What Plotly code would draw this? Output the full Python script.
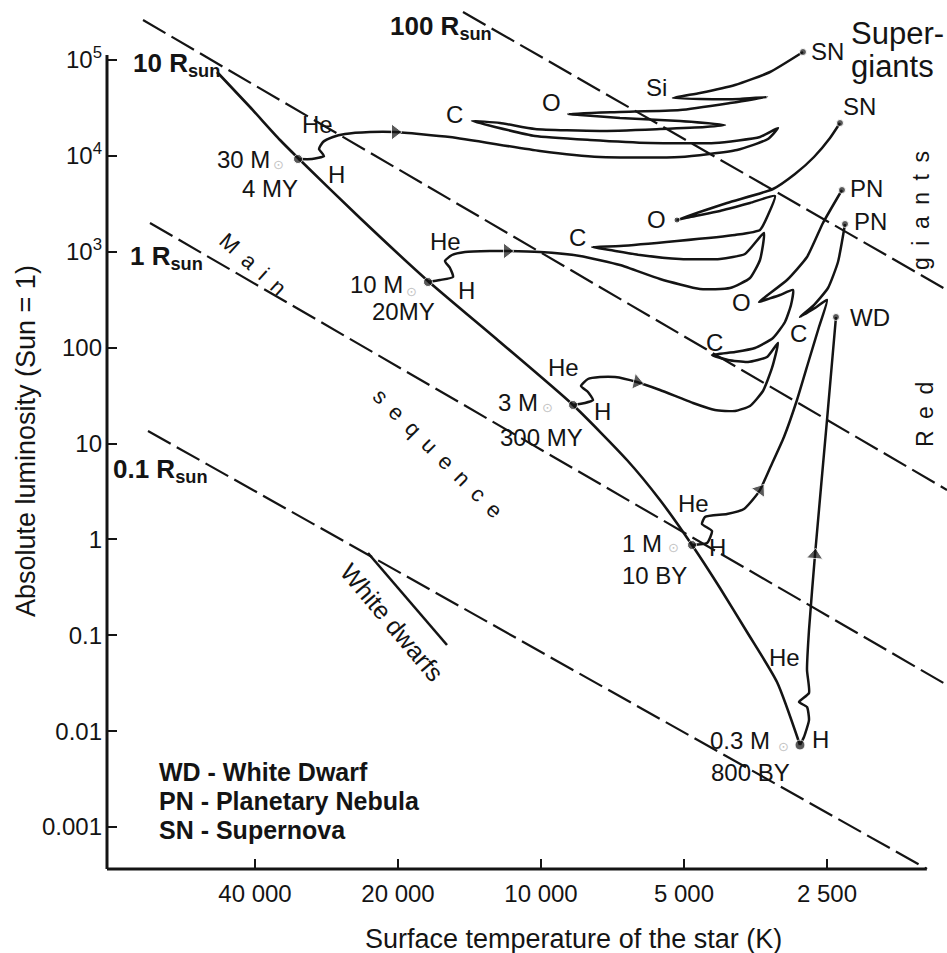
import numpy as np
import plotly.graph_objects as go

# ---------------- data (log10 T [K], log10 L [L_sun]) ----------------
t_ticks = [40000, 20000, 10000, 5000, 2500]
t_labels = ["40 000", "20 000", "10 000", "5 000", "2 500"]
l_ticks = [1e5, 1e4, 1e3, 100, 10, 1, 0.1, 0.01, 0.001]
l_labels = ["10<sup>5</sup>", "10<sup>4</sup>", "10<sup>3</sup>", "100", "10", "1", "0.1", "0.01", "0.001"]

# lines of constant radius (end points)
radius_names = ["100 Rsun", "10 Rsun", "1 Rsun", "0.1 Rsun"]
radius_logT = [[4.1642, 3.1453], [4.8378, 3.1453], [4.8231, 3.1453], [4.8273, 3.1874]]
radius_logL = [[5.5006, 2.6011], [5.4172, 0.5151], [3.2999, -1.5188], [1.1305, -3.4379]]

# main sequence
ms_logT = [4.6820, 4.6126, 4.5494, 4.5115, 4.3810, 4.2379, 4.0863, 3.9326, 3.8190, 3.7495,
           3.6821, 3.6232, 3.5663, 3.5032, 3.4548]
ms_logL = [4.8748, 4.5098, 4.1656, 3.9779, 3.3521, 2.6950, 2.0587, 1.4016, 0.8280, 0.4108,
           -0.0586, -0.5070, -0.9660, -1.4875, -2.1446]

# evolutionary tracks
m30_logT = [4.5115, 4.4821, 4.4568, 4.4673, 4.4589, 4.4379, 4.4126, 4.3600, 4.3073, 4.1916,
            4.0021, 3.8758, 3.7074, 3.5874, 3.5221, 3.5011, 3.5390, 3.6337, 3.7705, 3.8968,
            4.0126, 4.0968, 4.1452, 4.0863, 4.0126, 3.8758, 3.7495, 3.6548, 3.6127, 3.7074,
            3.8337, 3.9179, 3.9432, 3.8337, 3.7074, 3.6021, 3.5242, 3.5811, 3.6653, 3.7221,
            3.6653, 3.5916, 3.5179, 3.4485]
m30_logL = [3.9674, 3.9674, 3.9987, 4.0717, 4.1447, 4.1969, 4.2282, 4.2490, 4.2490, 4.1969,
            4.0509, 3.9883, 3.9883, 4.0613, 4.1760, 4.2908, 4.1969, 4.1343, 4.1343, 4.1656,
            4.2073, 4.3012, 4.3638, 4.3429, 4.2803, 4.2595, 4.2803, 4.3012, 4.3221, 4.3638,
            4.3951, 4.4264, 4.4368, 4.4576, 4.4785, 4.5515, 4.6141, 4.5932, 4.5932, 4.6037,
            4.6558, 4.7393, 4.8748, 5.0834]

m10_logT = [4.2379, 4.2126, 4.1852, 4.1916, 4.2021, 4.1873, 4.1600, 4.1074, 4.0716, 4.0021,
            3.9179, 3.8337, 3.7495, 3.6653, 3.6021, 3.5600, 3.5390, 3.5306, 3.5706, 3.6232,
            3.7074, 3.7916, 3.8547, 3.8926, 3.8337, 3.7137, 3.5916, 3.5390, 3.5221, 3.5074,
            3.5600, 3.6232, 3.6863, 3.7137, 3.6084, 3.5116, 3.4653, 3.4253, 3.3916, 3.3706]
m10_logL = [2.6845, 2.7054, 2.7367, 2.8306, 2.9036, 2.9662, 2.9974, 3.0079, 3.0079, 2.9974,
            2.9557, 2.8619, 2.7158, 2.6115, 2.6220, 2.7263, 2.9140, 3.1956, 2.9766, 2.9244,
            2.9244, 2.9662, 3.0183, 3.0496, 3.0600, 3.1122, 3.1748, 3.2269, 3.3834, 3.5815,
            3.5085, 3.4251, 3.3625, 3.3312, 3.5085, 3.6545, 3.8110, 3.9883, 4.1865, 4.3429]

m3_logT = [3.9326, 3.9074, 3.8905, 3.9011, 3.9158, 3.9011, 3.8758, 3.8442, 3.7979, 3.7495,
           3.6800, 3.6337, 3.5916, 3.5600, 3.5327, 3.5137, 3.5011, 3.5242, 3.5642, 3.6063,
           3.6400, 3.5916, 3.5495, 3.5116, 3.4864, 3.4737, 3.4695, 3.4969, 3.5221, 3.5411,
           3.4821, 3.4400, 3.4064, 3.3664]
m3_logL = [1.4017, 1.4225, 1.4538, 1.5372, 1.5998, 1.6728, 1.6937, 1.6937, 1.6415, 1.5581,
           1.4225, 1.3495, 1.3391, 1.3912, 1.5477, 1.7876, 2.0483, 1.9023, 1.8501, 1.8710,
           1.9232, 1.9544, 1.9962, 2.1005, 2.2673, 2.4447, 2.6011, 2.5490, 2.5072, 2.4759,
           2.7054, 2.9453, 3.2999, 3.6441]

m1_logT = [3.6821, 3.6505, 3.6400, 3.6611, 3.6548, 3.6084, 3.5727, 3.5495, 3.5390, 3.5179,
           3.4885, 3.4611, 3.4358, 3.4148, 3.3979, 3.4232, 3.4548, 3.4274, 3.3958, 3.3748, 3.3600]
m1_logL = [-0.0586, -0.0377, 0.0875, 0.1605, 0.2335, 0.2648, 0.3169, 0.4421, 0.5151, 0.7446,
           1.0679, 1.4538, 1.8710, 2.2152, 2.4968, 2.4134, 2.3195, 2.4342, 2.6220, 2.8931, 3.2895]

m03_logT = [3.4548, 3.4464, 3.4358, 3.4400, 3.4569, 3.4358, 3.4400, 3.4358, 3.4232, 3.3979, 3.3790]
m03_logL = [-2.1446, -2.0611, -1.8838, -1.7482, -1.6961, -1.6022, -1.3623, -0.9451, -0.1629, 1.2452, 2.3195]

# white dwarf cooling line
wd_logT = [4.3642, 4.1979]
wd_logL = [-0.1420, -1.1016]

# filled dots: stellar starting points, SN, PN, WD end points
dot_names = ["30M", "10M", "3M", "1M", "0.3M", "SN1", "SN2", "PN1", "PN2", "WD", "O10"]
dot_logT = [4.5115, 4.2379, 3.9326, 3.6821, 3.4548, 3.4485, 3.3706, 3.3664, 3.3600, 3.3790, 3.7137]
dot_logL = [3.9674, 2.6845, 1.4017, -0.0586, -2.1446, 5.0834, 4.3429, 3.6441, 3.2895, 2.3195, 3.3312]

# arrow heads (previous point, arrow point)
arrow_logT = [[4.3600, 4.3073], [4.1074, 4.0716], [3.8442, 3.7979], [3.5495, 3.5390], [3.4358, 3.4232]]
arrow_logL = [[4.2490, 4.2490], [3.0079, 3.0079], [1.6937, 1.6415], [0.4421, 0.5151], [-0.9451, -0.1629]]


def p(v):
    return 10 ** np.array(v)


INK = "#141414"
FONT = "Liberation Sans, Arial, Helvetica, sans-serif"

fig = go.Figure()

for lt, ll in zip(radius_logT, radius_logL):
    fig.add_trace(go.Scatter(x=p(lt), y=p(ll), mode="lines",
                             line=dict(color=INK, width=2.2, dash="26px,7px"), hoverinfo="skip"))

fig.add_trace(go.Scatter(x=p(ms_logT), y=p(ms_logL), mode="lines",
                         line=dict(color=INK, width=2.6, shape="spline", smoothing=0.6), hoverinfo="skip"))

for lt, ll in [(m30_logT, m30_logL), (m10_logT, m10_logL), (m3_logT, m3_logL),
               (m1_logT, m1_logL), (m03_logT, m03_logL)]:
    fig.add_trace(go.Scatter(x=p(lt), y=p(ll), mode="lines",
                             line=dict(color=INK, width=2.5, shape="spline", smoothing=0.5),
                             hoverinfo="skip"))

fig.add_trace(go.Scatter(x=p(wd_logT), y=p(wd_logL), mode="lines",
                         line=dict(color=INK, width=2.6), hoverinfo="skip"))

fig.add_trace(go.Scatter(x=p(dot_logT), y=p(dot_logL), mode="markers",
                         marker=dict(color=INK, size=[9, 9, 9, 9, 10, 7, 7, 7, 7, 7, 6]),
                         hoverinfo="skip"))

for lt, ll in zip(arrow_logT, arrow_logL):
    fig.add_trace(go.Scatter(x=p(lt), y=p(ll), mode="markers",
                             marker=dict(symbol="triangle-up", size=[0, 14], color=INK,
                                         angleref="previous"),
                             hoverinfo="skip"))

# ---------------- text labels (positions in log10 axis units) ----------------
labels = [
    ("<b>10 R<sub>sun</sub></b>", 4.8631, 4.9583, 26, "left", 0),
    ("<b>100 R<sub>sun</sub></b>", 4.3221, 5.3442, 26, "left", 0),
    ("<b>1 R<sub>sun</sub></b>", 4.8694, 2.9453, 26, "left", 0),
    ("<b>0.1 R<sub>sun</sub></b>", 4.9052, 0.7237, 26, "left", 0),
    ("Super-", 3.3516, 5.2816, 31, "left", 0),
    ("giants", 3.3516, 4.9374, 31, "left", 0),
    ("SN", 3.4358, 5.0939, 24, "left", 0),
    ("SN", 3.3685, 4.5202, 24, "left", 0),
    ("PN", 3.3537, 3.6650, 24, "left", 0),
    ("PN", 3.3453, 3.3208, 24, "left", 0),
    ("WD", 3.3537, 2.3195, 24, "left", 0),
    ("Si", 3.7579, 4.7184, 24, "center", 0),
    ("O", 3.9789, 4.5619, 24, "center", 0),
    ("C", 4.1831, 4.4368, 24, "center", 0),
    ("He", 4.4715, 4.3221, 24, "center", 0),
    ("H", 4.4315, 3.8110, 24, "center", 0),
    ("30 M", 4.6273, 3.9674, 24, "center", 0),
    ("4 MY", 4.5705, 3.6650, 24, "center", 0),
    ("C", 3.9242, 3.1539, 24, "center", 0),
    ("O", 3.7558, 3.3416, 24, "center", 0),
    ("He", 4.2000, 3.1122, 24, "center", 0),
    ("H", 4.1558, 2.6011, 24, "center", 0),
    ("10 M", 4.3473, 2.6533, 24, "center", 0),
    ("20MY", 4.2884, 2.3821, 24, "center", 0),
    ("3 M", 4.0484, 1.4329, 24, "center", 0),
    ("300 MY", 3.9979, 1.0575, 24, "center", 0),
    ("He", 3.9516, 1.7876, 24, "center", 0),
    ("H", 3.8695, 1.3391, 24, "center", 0),
    ("C", 3.6337, 2.0587, 24, "center", 0),
    ("O", 3.5769, 2.4759, 24, "center", 0),
    ("C", 3.4569, 2.1526, 24, "center", 0),
    ("1 M", 3.7874, -0.0377, 24, "center", 0),
    ("10 BY", 3.7621, -0.3715, 24, "center", 0),
    ("He", 3.6800, 0.3795, 24, "center", 0),
    ("H", 3.6274, -0.0898, 24, "center", 0),
    ("0.3 M", 3.5811, -2.1028, 24, "center", 0),
    ("800 BY", 3.5600, -2.4262, 24, "center", 0),
    ("H", 3.4106, -2.0820, 24, "center", 0),
    ("He", 3.4864, -1.2267, 24, "center", 0),
    ("M\u2002a\u2002i\u2002n", 4.6063, 2.8619, 22, "center", 42),
    ("s\u2002e\u2002q\u2002u\u2002e\u2002n\u2002c\u2002e", 4.2168, 0.9010, 22, "center", 45),
    ("White dwarfs", 4.3137, -0.8617, 25, "center", 50),
    ("R\u2002e\u2002d", 3.1916, 1.2974, 23, "center", -90),
    ("g\u2002i\u2002a\u2002n\u2002t\u2002s", 3.2001, 3.4355, 23, "center", -90),
    ("<b>WD - White Dwarf</b>", 4.8084, -2.4262, 25, "left", 0),
    ("<b>PN - Planetary Nebula</b>", 4.8084, -2.7286, 25, "left", 0),
    ("<b>SN - Supernova</b>", 4.8084, -3.0311, 25, "left", 0),
]
sun_marks = [(4.5536, 3.9153), (4.2716, 2.5907), (3.9853, 1.3808), (3.7221, -0.0898), (3.4885, -2.1550)]

annotations = []
for text, lx, ly, size, xa, ang in labels:
    annotations.append(dict(text=text, x=lx, y=ly, xref="x", yref="y", showarrow=False,
                            xanchor=xa, yanchor="middle", textangle=ang,
                            font=dict(size=size, color=INK, family=FONT)))
for lx, ly in sun_marks:
    annotations.append(dict(text="\u2299", x=lx, y=ly, xref="x", yref="y", showarrow=False,
                            font=dict(size=13, color="#c4c4c4", family="DejaVu Sans")))

# axis titles
annotations.append(dict(text="Surface temperature of the star (K)", x=0.5548, y=-0.0806,
                        xref="paper", yref="paper", showarrow=False, xanchor="center", yanchor="middle",
                        font=dict(size=27, color=INK, family=FONT)))
annotations.append(dict(text="Absolute luminosity (Sun = 1)", x=-0.0964, y=0.4925,
                        xref="paper", yref="paper", showarrow=False, xanchor="center", yanchor="middle",
                        textangle=-90, font=dict(size=27, color=INK, family=FONT)))

fig.update_layout(
    width=947, height=953,
    margin=dict(l=107, r=0, t=0, b=84),
    paper_bgcolor="white", plot_bgcolor="white",
    showlegend=False,
    font=dict(family=FONT, color=INK),
    annotations=annotations,
    shapes=[
        dict(type="line", xref="paper", yref="paper", x0=0, x1=0, y0=0, y1=0.9367,
             line=dict(color=INK, width=3)),
        dict(type="line", xref="paper", yref="paper", x0=0, x1=0.976, y0=0, y1=0,
             line=dict(color=INK, width=3)),
    ],
)
fig.update_xaxes(type="log", range=[4.9136, 3.1453], tickvals=t_ticks, ticktext=t_labels,
                 ticks="inside", ticklen=10, tickwidth=2, tickcolor=INK,
                 showgrid=False, zeroline=False, showline=False,
                 tickfont=dict(size=24, color=INK, family=FONT), ticklabelstandoff=8)
fig.update_yaxes(type="log", range=[-3.4379, 5.6258], tickvals=l_ticks, ticktext=l_labels,
                 ticks="inside", ticklen=10, tickwidth=2, tickcolor=INK,
                 showgrid=False, zeroline=False, showline=False,
                 tickfont=dict(size=24, color=INK, family=FONT), ticklabelstandoff=4)

fig.write_html("out.html", config={"displayModeBar": False},
               post_script="document.body.style.margin='0px';")
